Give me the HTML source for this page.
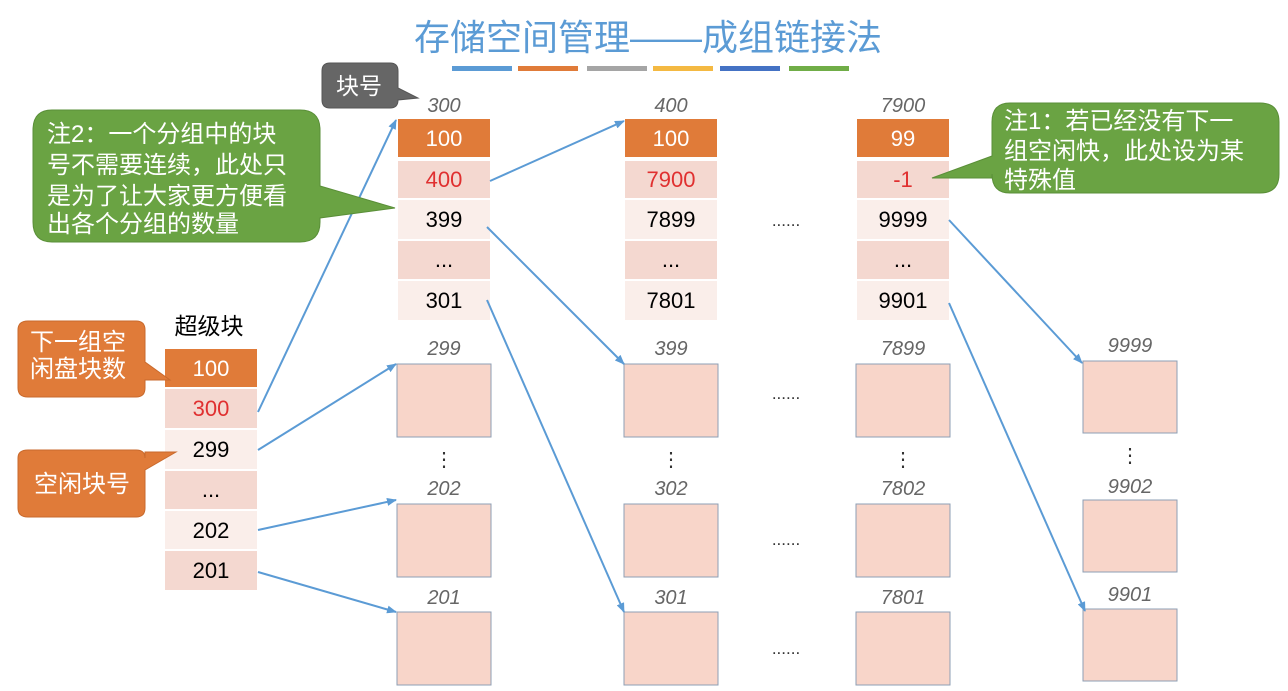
<!DOCTYPE html>
<html><head><meta charset="utf-8"><style>
body{margin:0;background:#fff;}
svg text{font-family:"Liberation Sans","Noto Sans CJK SC",sans-serif;}
</style></head><body>
<svg width="1288" height="686" viewBox="0 0 1288 686" xmlns="http://www.w3.org/2000/svg">
<defs>
<marker id="a" markerWidth="10" markerHeight="8" refX="9" refY="4" orient="auto" markerUnits="userSpaceOnUse"><path d="M0,0 L10,4 L0,8 Z" fill="#5b9bd5"/></marker>
</defs>
<text x="648" y="50" text-anchor="middle" font-size="36" fill="#5b9bd5">存储空间管理——成组链接法</text>
<g>
<rect x="452" y="66" width="60" height="5" fill="#5b9bd5"/>
<rect x="518" y="66" width="60" height="5" fill="#e07b39"/>
<rect x="587" y="66" width="60" height="5" fill="#a5a5a5"/>
<rect x="653" y="66" width="60" height="5" fill="#f4b942"/>
<rect x="720" y="66" width="60" height="5" fill="#4472c4"/>
<rect x="789" y="66" width="60" height="5" fill="#70ad47"/>
</g>
<g font-size="22" text-anchor="middle">
<text x="444" y="112" font-size="20" font-style="italic" fill="#666">300</text>
<rect x="398" y="119" width="92" height="38" fill="#e07b39"/><text x="444" y="146" fill="#fff">100</text>
<rect x="398" y="161" width="92" height="37" fill="#f4d8d0"/><text x="444" y="187" fill="#e03030">400</text>
<rect x="398" y="200" width="92" height="39" fill="#faeeea"/><text x="444" y="227">399</text>
<rect x="398" y="241" width="92" height="38" fill="#f4d8d0"/><text x="444" y="267">...</text>
<rect x="398" y="281" width="92" height="39" fill="#faeeea"/><text x="444" y="308">301</text>
<text x="671" y="112" font-size="20" font-style="italic" fill="#666">400</text>
<rect x="625" y="119" width="92" height="38" fill="#e07b39"/><text x="671" y="146" fill="#fff">100</text>
<rect x="625" y="161" width="92" height="37" fill="#f4d8d0"/><text x="671" y="187" fill="#e03030">7900</text>
<rect x="625" y="200" width="92" height="39" fill="#faeeea"/><text x="671" y="227">7899</text>
<rect x="625" y="241" width="92" height="38" fill="#f4d8d0"/><text x="671" y="267">...</text>
<rect x="625" y="281" width="92" height="39" fill="#faeeea"/><text x="671" y="308">7801</text>
<text x="903" y="112" font-size="20" font-style="italic" fill="#666">7900</text>
<rect x="857" y="119" width="92" height="38" fill="#e07b39"/><text x="903" y="146" fill="#fff">99</text>
<rect x="857" y="161" width="92" height="37" fill="#f4d8d0"/><text x="903" y="187" fill="#e03030">-1</text>
<rect x="857" y="200" width="92" height="39" fill="#faeeea"/><text x="903" y="227">9999</text>
<rect x="857" y="241" width="92" height="38" fill="#f4d8d0"/><text x="903" y="267">...</text>
<rect x="857" y="281" width="92" height="39" fill="#faeeea"/><text x="903" y="308">9901</text>
<text x="209" y="334" font-size="23">超级块</text>
<rect x="165" y="349" width="92" height="38" fill="#e07b39"/><text x="211" y="376" fill="#fff">100</text>
<rect x="165" y="389" width="92" height="39" fill="#f4d8d0"/><text x="211" y="416" fill="#e03030">300</text>
<rect x="165" y="430" width="92" height="39" fill="#faeeea"/><text x="211" y="457">299</text>
<rect x="165" y="471" width="92" height="38" fill="#f4d8d0"/><text x="211" y="497">...</text>
<rect x="165" y="511" width="92" height="38" fill="#faeeea"/><text x="211" y="538">202</text>
<rect x="165" y="551" width="92" height="39" fill="#f4d8d0"/><text x="211" y="578">201</text>
</g>
<g fill="#f8d5c9" stroke="#8e9fb5" stroke-width="1">
<rect x="397" y="364" width="94" height="73"/><rect x="397" y="504" width="94" height="73"/><rect x="397" y="612" width="94" height="73"/>
<rect x="624" y="364" width="94" height="73"/><rect x="624" y="504" width="94" height="73"/><rect x="624" y="612" width="94" height="73"/>
<rect x="856" y="364" width="94" height="73"/><rect x="856" y="504" width="94" height="73"/><rect x="856" y="612" width="94" height="73"/>
<rect x="1083" y="361" width="94" height="72"/><rect x="1083" y="500" width="94" height="72"/><rect x="1083" y="609" width="94" height="72"/>
</g>
<g font-size="20" font-style="italic" fill="#666" text-anchor="middle">
<text x="444" y="355">299</text><text x="444" y="495">202</text><text x="444" y="604">201</text>
<text x="671" y="355">399</text><text x="671" y="495">302</text><text x="671" y="604">301</text>
<text x="903" y="355">7899</text><text x="903" y="495">7802</text><text x="903" y="604">7801</text>
<text x="1130" y="352">9999</text><text x="1130" y="493">9902</text><text x="1130" y="601">9901</text>
</g>
<g font-size="20" text-anchor="middle" fill="#333">
<text x="444" y="466">⋮</text><text x="671" y="466">⋮</text><text x="903" y="466">⋮</text><text x="1130" y="462">⋮</text>
<text x="786" y="226" font-size="17">......</text>
<text x="786" y="399" font-size="17">......</text>
<text x="786" y="545" font-size="17">......</text>
<text x="786" y="654" font-size="17">......</text>
</g>
<g stroke="#5b9bd5" stroke-width="2" marker-end="url(#a)">
<line x1="258" y1="412" x2="396" y2="120"/>
<line x1="258" y1="450" x2="396" y2="364"/>
<line x1="258" y1="530" x2="396" y2="500"/>
<line x1="258" y1="572" x2="396" y2="612"/>
<line x1="490" y1="181" x2="624" y2="121"/>
<line x1="487" y1="227" x2="624" y2="364"/>
<line x1="487" y1="300" x2="624" y2="612"/>
<line x1="949" y1="220" x2="1082" y2="363"/>
<line x1="949" y1="303" x2="1085" y2="611"/>
</g>
<path d="M330,63 H390 Q398,63 398,71 V88 L418,98 L398,100 Q398,108 390,108 H330 Q322,108 322,100 V71 Q322,63 330,63 Z" fill="#666" stroke="#555"/>
<text x="359" y="94" font-size="23" fill="#fff" text-anchor="middle">块号</text>
<path d="M52,110 H300 Q320,110 320,130 V186 L395,208 L320,218 V222 Q320,242 300,242 H52 Q33,242 33,222 V130 Q33,110 52,110 Z" fill="#6aa343" stroke="#5a8f38"/>
<g font-size="24" fill="#fff"><text x="47" y="142">注2：一个分组中的块</text><text x="47" y="173">号不需要连续，此处只</text><text x="47" y="204">是为了让大家更方便看</text><text x="47" y="232">出各个分组的数量</text></g>
<path d="M1010,103 H1260 Q1279,103 1279,122 V174 Q1279,193 1260,193 H1010 Q992,193 992,174 V178 L932,178 L992,156 V122 Q992,103 1010,103 Z" fill="#6aa343" stroke="#5a8f38"/>
<g font-size="24" fill="#fff"><text x="1004" y="129">注1：若已经没有下一</text><text x="1004" y="159">组空闲快，此处设为某</text><text x="1004" y="188">特殊值</text></g>
<path d="M28,321 H136 Q145,321 145,330 V362 L170,380 L145,380 V388 Q145,397 136,397 H28 Q18,397 18,388 V330 Q18,321 28,321 Z" fill="#e07b39" stroke="#c96a2d"/>
<g font-size="24" fill="#fff"><text x="30" y="350">下一组空</text><text x="30" y="377">闲盘块数</text></g>
<path d="M28,450 H136 Q145,450 145,458 V452 L176,452 L145,470 V508 Q145,517 136,517 H28 Q18,517 18,508 V458 Q18,450 28,450 Z" fill="#e07b39" stroke="#c96a2d"/>
<text x="82" y="492" font-size="24" fill="#fff" text-anchor="middle">空闲块号</text>
</svg>
</body></html>
